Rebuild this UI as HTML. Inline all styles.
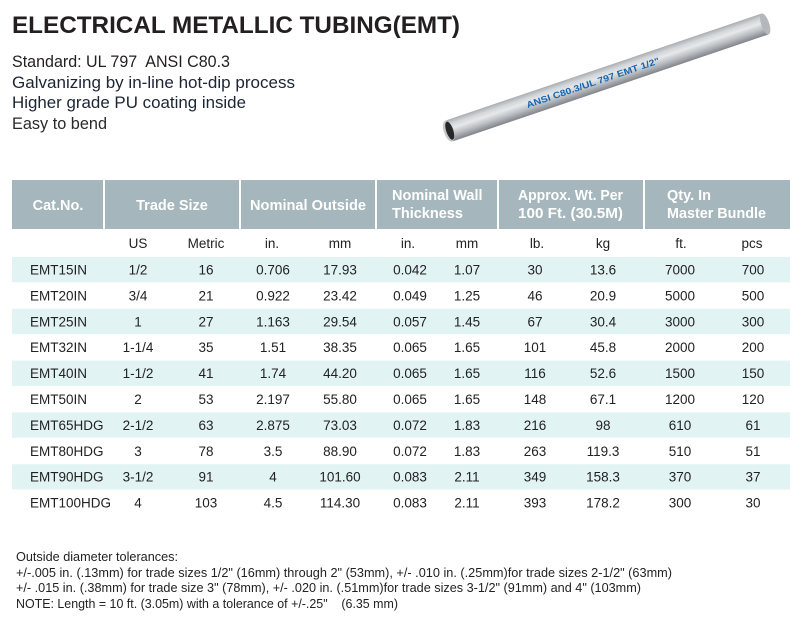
<!DOCTYPE html>
<html>
<head>
<meta charset="utf-8">
<style>
html,body{margin:0;padding:0;background:#fff;}
svg{display:block;}
text{font-family:"Liberation Sans",sans-serif;}
.t{font-size:13.5px;fill:#222;text-anchor:middle;}
.c{font-size:13.5px;fill:#222;text-anchor:start;}
.h{font-size:14.5px;font-weight:bold;fill:#fff;}
.s{font-size:13.5px;fill:#222;text-anchor:middle;}
.f{font-size:13px;fill:#222;}
</style>
</head>
<body>
<svg width="801" height="624" viewBox="0 0 801 624" xmlns="http://www.w3.org/2000/svg">
<defs>
<linearGradient id="tube" x1="0" y1="0" x2="0" y2="1">
<stop offset="0" stop-color="#a9adb1"/>
<stop offset="0.22" stop-color="#d4d7da"/>
<stop offset="0.42" stop-color="#e6e8ea"/>
<stop offset="0.7" stop-color="#b9bdc1"/>
<stop offset="1" stop-color="#7f848a"/>
</linearGradient>
</defs>

<!-- Title -->
<text x="12" y="33" style="font-size:24.5px;font-weight:bold;fill:#231f20" textLength="448" lengthAdjust="spacingAndGlyphs">ELECTRICAL METALLIC TUBING(EMT)</text>

<!-- Subtitles -->
<text x="12" y="67" style="font-size:16.5px;fill:#231f20" textLength="218" lengthAdjust="spacingAndGlyphs">Standard: UL 797&#160; ANSI C80.3</text>
<text x="12" y="88" style="font-size:16.5px;fill:#1c2535" textLength="283" lengthAdjust="spacingAndGlyphs">Galvanizing by in-line hot-dip process</text>
<text x="12" y="108" style="font-size:16.5px;fill:#1c2535" textLength="234" lengthAdjust="spacingAndGlyphs">Higher grade PU coating inside</text>
<text x="12" y="129" style="font-size:16.5px;fill:#2a2a2a" textLength="95" lengthAdjust="spacingAndGlyphs">Easy to bend</text>

<!-- Tube -->
<g transform="translate(607,77.5) rotate(-18.7)">
<rect x="-167" y="-11" width="334" height="22" fill="url(#tube)"/>
<ellipse cx="167" cy="0" rx="4" ry="11" fill="#b4b8bc"/>
<ellipse cx="-167" cy="0" rx="5" ry="11" fill="#c4c7ca"/>
<ellipse cx="-166" cy="0" rx="3.5" ry="9.5" fill="#26282a"/>
<text x="-85" y="3.5" style="font-size:9px;font-weight:bold;fill:#1565b0" textLength="140" lengthAdjust="spacingAndGlyphs">ANSI C80.3/UL 797 EMT 1/2"</text>
</g>

<!-- Header -->
<rect x="12" y="180" width="778" height="49" fill="#a5b7bd"/>
<rect x="103" y="180" width="2" height="49" fill="#fff"/>
<rect x="239" y="180" width="2" height="49" fill="#fff"/>
<rect x="375" y="180" width="2" height="49" fill="#fff"/>
<rect x="497" y="180" width="2" height="49" fill="#fff"/>
<rect x="643" y="180" width="2" height="49" fill="#fff"/>

<text class="h" x="58" y="210" text-anchor="middle">Cat.No.</text>
<text class="h" x="172" y="210" text-anchor="middle">Trade Size</text>
<text class="h" x="308" y="210" text-anchor="middle" textLength="116" lengthAdjust="spacingAndGlyphs">Nominal Outside</text>
<text class="h" x="392" y="200">Nominal Wall</text>
<text class="h" x="392" y="218">Thickness</text>
<text class="h" x="518" y="200" textLength="105" lengthAdjust="spacingAndGlyphs">Approx. Wt. Per</text>
<text class="h" x="518" y="218" textLength="105" lengthAdjust="spacingAndGlyphs">100 Ft. (30.5M)</text>
<text class="h" x="667" y="200">Qty. In</text>
<text class="h" x="667" y="218" textLength="99" lengthAdjust="spacingAndGlyphs">Master Bundle</text>

<!-- Sub-header -->
<text class="s" x="138" y="248">US</text>
<text class="s" x="206" y="248">Metric</text>
<text class="s" x="272" y="248">in.</text>
<text class="s" x="340" y="248">mm</text>
<text class="s" x="408" y="248">in.</text>
<text class="s" x="467" y="248">mm</text>
<text class="s" x="537" y="248">lb.</text>
<text class="s" x="603" y="248">kg</text>
<text class="s" x="681" y="248">ft.</text>
<text class="s" x="752" y="248">pcs</text>

<!-- Row bands -->
<rect x="12" y="257" width="778" height="25.3" fill="#e2f3f4"/>
<rect x="12" y="308.8" width="778" height="25.3" fill="#e2f3f4"/>
<rect x="12" y="360.6" width="778" height="25.3" fill="#e2f3f4"/>
<rect x="12" y="412.4" width="778" height="25.3" fill="#e2f3f4"/>
<rect x="12" y="464.2" width="778" height="25.3" fill="#e2f3f4"/>

<!-- Rows -->
<g>
<text class="c" x="30" y="274.5">EMT15IN</text><text class="t" x="138" y="274.5">1/2</text><text class="t" x="206" y="274.5">16</text><text class="t" x="273" y="274.5">0.706</text><text class="t" x="340" y="274.5">17.93</text><text class="t" x="410" y="274.5">0.042</text><text class="t" x="467" y="274.5">1.07</text><text class="t" x="535" y="274.5">30</text><text class="t" x="603" y="274.5">13.6</text><text class="t" x="680" y="274.5">7000</text><text class="t" x="753" y="274.5">700</text>
</g>
<g>
<text class="c" x="30" y="300.4">EMT20IN</text><text class="t" x="138" y="300.4">3/4</text><text class="t" x="206" y="300.4">21</text><text class="t" x="273" y="300.4">0.922</text><text class="t" x="340" y="300.4">23.42</text><text class="t" x="410" y="300.4">0.049</text><text class="t" x="467" y="300.4">1.25</text><text class="t" x="535" y="300.4">46</text><text class="t" x="603" y="300.4">20.9</text><text class="t" x="680" y="300.4">5000</text><text class="t" x="753" y="300.4">500</text>
</g>
<g>
<text class="c" x="30" y="326.3">EMT25IN</text><text class="t" x="138" y="326.3">1</text><text class="t" x="206" y="326.3">27</text><text class="t" x="273" y="326.3">1.163</text><text class="t" x="340" y="326.3">29.54</text><text class="t" x="410" y="326.3">0.057</text><text class="t" x="467" y="326.3">1.45</text><text class="t" x="535" y="326.3">67</text><text class="t" x="603" y="326.3">30.4</text><text class="t" x="680" y="326.3">3000</text><text class="t" x="753" y="326.3">300</text>
</g>
<g>
<text class="c" x="30" y="352.2">EMT32IN</text><text class="t" x="138" y="352.2">1-1/4</text><text class="t" x="206" y="352.2">35</text><text class="t" x="273" y="352.2">1.51</text><text class="t" x="340" y="352.2">38.35</text><text class="t" x="410" y="352.2">0.065</text><text class="t" x="467" y="352.2">1.65</text><text class="t" x="535" y="352.2">101</text><text class="t" x="603" y="352.2">45.8</text><text class="t" x="680" y="352.2">2000</text><text class="t" x="753" y="352.2">200</text>
</g>
<g>
<text class="c" x="30" y="378.1">EMT40IN</text><text class="t" x="138" y="378.1">1-1/2</text><text class="t" x="206" y="378.1">41</text><text class="t" x="273" y="378.1">1.74</text><text class="t" x="340" y="378.1">44.20</text><text class="t" x="410" y="378.1">0.065</text><text class="t" x="467" y="378.1">1.65</text><text class="t" x="535" y="378.1">116</text><text class="t" x="603" y="378.1">52.6</text><text class="t" x="680" y="378.1">1500</text><text class="t" x="753" y="378.1">150</text>
</g>
<g>
<text class="c" x="30" y="404">EMT50IN</text><text class="t" x="138" y="404">2</text><text class="t" x="206" y="404">53</text><text class="t" x="273" y="404">2.197</text><text class="t" x="340" y="404">55.80</text><text class="t" x="410" y="404">0.065</text><text class="t" x="467" y="404">1.65</text><text class="t" x="535" y="404">148</text><text class="t" x="603" y="404">67.1</text><text class="t" x="680" y="404">1200</text><text class="t" x="753" y="404">120</text>
</g>
<g>
<text class="c" x="30" y="429.9">EMT65HDG</text><text class="t" x="138" y="429.9">2-1/2</text><text class="t" x="206" y="429.9">63</text><text class="t" x="273" y="429.9">2.875</text><text class="t" x="340" y="429.9">73.03</text><text class="t" x="410" y="429.9">0.072</text><text class="t" x="467" y="429.9">1.83</text><text class="t" x="535" y="429.9">216</text><text class="t" x="603" y="429.9">98</text><text class="t" x="680" y="429.9">610</text><text class="t" x="753" y="429.9">61</text>
</g>
<g>
<text class="c" x="30" y="455.8">EMT80HDG</text><text class="t" x="138" y="455.8">3</text><text class="t" x="206" y="455.8">78</text><text class="t" x="273" y="455.8">3.5</text><text class="t" x="340" y="455.8">88.90</text><text class="t" x="410" y="455.8">0.072</text><text class="t" x="467" y="455.8">1.83</text><text class="t" x="535" y="455.8">263</text><text class="t" x="603" y="455.8">119.3</text><text class="t" x="680" y="455.8">510</text><text class="t" x="753" y="455.8">51</text>
</g>
<g>
<text class="c" x="30" y="481.7">EMT90HDG</text><text class="t" x="138" y="481.7">3-1/2</text><text class="t" x="206" y="481.7">91</text><text class="t" x="273" y="481.7">4</text><text class="t" x="340" y="481.7">101.60</text><text class="t" x="410" y="481.7">0.083</text><text class="t" x="467" y="481.7">2.11</text><text class="t" x="535" y="481.7">349</text><text class="t" x="603" y="481.7">158.3</text><text class="t" x="680" y="481.7">370</text><text class="t" x="753" y="481.7">37</text>
</g>
<g>
<text class="c" x="30" y="507.6">EMT100HDG</text><text class="t" x="138" y="507.6">4</text><text class="t" x="206" y="507.6">103</text><text class="t" x="273" y="507.6">4.5</text><text class="t" x="340" y="507.6">114.30</text><text class="t" x="410" y="507.6">0.083</text><text class="t" x="467" y="507.6">2.11</text><text class="t" x="535" y="507.6">393</text><text class="t" x="603" y="507.6">178.2</text><text class="t" x="680" y="507.6">300</text><text class="t" x="753" y="507.6">30</text>
</g>

<!-- Footnotes -->
<text class="f" x="16" y="561" textLength="162" lengthAdjust="spacingAndGlyphs">Outside diameter tolerances:</text>
<text class="f" x="16" y="577" textLength="656" lengthAdjust="spacingAndGlyphs">+/-.005 in. (.13mm) for trade sizes 1/2" (16mm) through 2" (53mm), +/- .010 in. (.25mm)for trade sizes 2-1/2" (63mm)</text>
<text class="f" x="16" y="592" textLength="625" lengthAdjust="spacingAndGlyphs">+/- .015 in. (.38mm) for trade size 3" (78mm), +/- .020 in. (.51mm)for trade sizes 3-1/2" (91mm) and 4" (103mm)</text>
<text class="f" x="16" y="608" textLength="382" lengthAdjust="spacingAndGlyphs">NOTE: Length = 10 ft. (3.05m) with a tolerance of +/-.25"&#160;&#160;&#160; (6.35 mm)</text>
</svg>
</body>
</html>
